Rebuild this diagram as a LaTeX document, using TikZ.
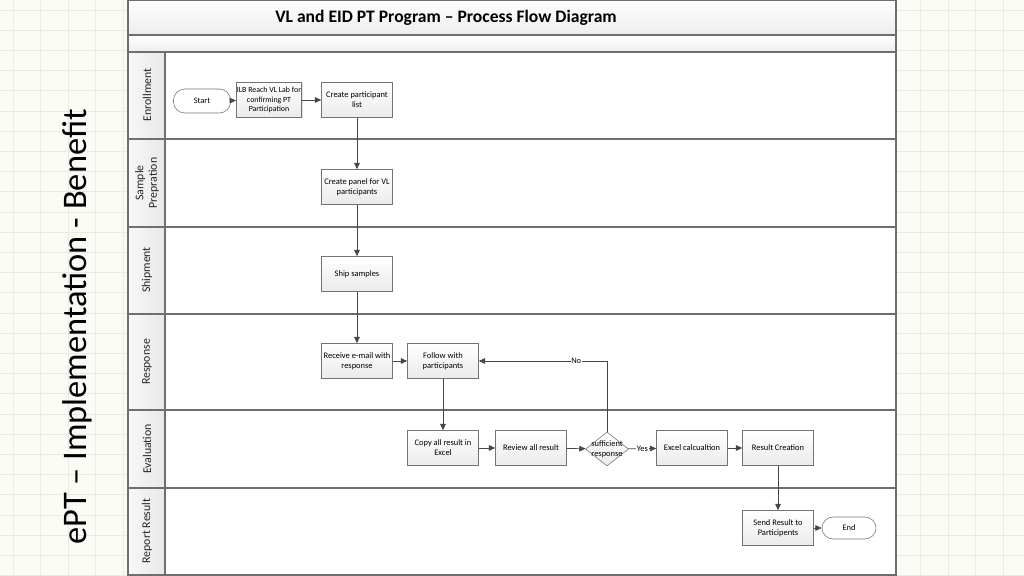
\documentclass[tikz,border=0pt]{standalone}
\usepackage{fontspec}
\setmainfont{Carlito}
\usetikzlibrary{shapes.geometric}
\usetikzlibrary{positioning}
\usetikzlibrary{arrows.meta}
\usetikzlibrary{shadows}
\definecolor{paperbg}{RGB}{251,251,245}
\definecolor{gridcol}{RGB}{234,234,226}
\definecolor{framecol}{RGB}{110,110,110}
\definecolor{linecol}{RGB}{70,70,70}

\begin{document}
\begin{tikzpicture}
		[
			x = 0.025cm, y = -0.025cm,
			gridline/.style = {draw = gridcol, line width = 0.7pt},
			frame/.style = {draw = framecol, line width = 0.9pt},
			band/.style = {frame, top color = white, bottom color = black!7},
			lanehead/.style = {frame, left color = black!3, right color = black!9},
			lanetext/.style = {rotate = 90, align = center, font = \fontsize{8.4}{9.6}\selectfont, text = black!85},
			procbox/.style = {rectangle, draw = black!55, top color = white, bottom color = black!8, minimum width = 1.775cm, minimum height = 0.875cm, inner sep = 1pt, align = center, font = \fontsize{6}{7.2}\selectfont, drop shadow = {opacity = 0.25, shadow xshift = 0.6pt, shadow yshift = -0.6pt}},
			pill/.style = {rectangle, rounded corners = 0.28cm, draw = black!55, fill = white, minimum height = 0.6cm, font = \fontsize{6}{7.2}\selectfont},
			decide/.style = {diamond, draw = black!55, top color = white, bottom color = black!8, minimum width = 1.075cm, minimum height = 0.85cm, inner sep = 0pt},
			flow/.style = {draw = linecol, line width = 0.5pt, -{Triangle[length = 4.5pt, width = 4pt]}},
			answer/.style = {fill = white, inner sep = 0.5pt, font = \fontsize{6}{7.2}\selectfont},
		]
			%
			\useasboundingbox (0,0) rectangle (1024,576);
			\fill[paperbg] (0,0) rectangle (1024,576);
			\foreach \gx in {0,...,37} {
				\draw[gridline] ({13+27.5*\gx},0) -- ({13+27.5*\gx},576);
			}
			\foreach \gy in {0,...,28} {
				\draw[gridline] (0,{10+20.2*\gy}) -- (1024,{10+20.2*\gy});
			}
			%
			\node (sidetitle) [rotate = 90, font = \fontsize{24.5}{28}\selectfont] at (77,327) {ePT – Implementation - Benefit};
			%
			% pool and lanes
			\fill[white] (128,0) rectangle (896,575);
			\draw[band] (128,0) rectangle (896,35);
			\draw[band] (128,35) rectangle (896,52);
			\node (title) [font = \fontsize{12.5}{15}\selectfont\bfseries] at (446,18) {VL and EID PT Program – Process Flow Diagram};
			%
			\draw[frame] (128,52) rectangle (896,139);
			\draw[frame] (128,139) rectangle (896,227);
			\draw[frame] (128,227) rectangle (896,314);
			\draw[frame] (128,314) rectangle (896,410);
			\draw[frame] (128,410) rectangle (896,488);
			\draw[frame] (128,488) rectangle (896,575);
			\draw[lanehead] (128,52) rectangle (165,139);
			\draw[lanehead] (128,139) rectangle (165,227);
			\draw[lanehead] (128,227) rectangle (165,314);
			\draw[lanehead] (128,314) rectangle (165,410);
			\draw[lanehead] (128,410) rectangle (165,488);
			\draw[lanehead] (128,488) rectangle (165,575);
			\node (enrolllane) [lanetext] at (147,95) {Enrollment};
			\node (preplane) [lanetext] at (147,183) {Sample\\Prepration};
			\node (shiplane) [lanetext] at (147,270) {Shipment};
			\node (responselane) [lanetext] at (147,362) {Response};
			\node (evallane) [lanetext] at (147,449) {Evaluation};
			\node (reportlane) [lanetext] at (147,531) {Report Result};
			%
			% steps
			\node (start) [pill, minimum width = 1.425cm] at (202,101) {Start};
			\node (reach) [procbox, minimum width = 1.55cm, inner sep = 0.5pt, font = \fontsize{5.6}{6.8}\selectfont] at (269,100) {ILB Reach VL Lab for\\confirming PT\\Participation};
			\node (partlist) [procbox] at (357,100) {Create participant\\list};
			\node (panel) [procbox] at (357,187) {Create panel for VL\\participants};
			\node (ship) [procbox] at (357,274) {Ship samples};
			\node (receive) [procbox] at (357,361) {Receive e-mail with\\response};
			\node (follow) [procbox] at (443,361) {Follow with\\participants};
			\node (copy) [procbox] at (443,448) {Copy all result in\\Excel};
			\node (review) [procbox] at (531,448) {Review all result};
			\node (enough) [decide, label = {[align = center, font = \fontsize{6}{7.2}\selectfont]center:sufficient\\response}] at (607,449) {};
			\node (calc) [procbox] at (692,448) {Excel calcualtion};
			\node (creation) [procbox] at (778,448) {Result Creation};
			\node (send) [procbox] at (778,528) {Send Result to\\Participents};
			\node (end) [pill, minimum width = 1.35cm, minimum height = 0.55cm] at (849,528) {End};
			%
			% connectors
			\draw[flow] (start) -- (reach);
			\draw[flow] (reach) -- (partlist);
			\draw[flow] (partlist) -- (panel);
			\draw[flow] (panel) -- (ship);
			\draw[flow] (ship) -- (receive);
			\draw[flow] (receive) -- (follow);
			\draw[flow] (follow) -- (copy);
			\draw[flow] (copy) -- (review);
			\draw[flow] (review) -- (enough);
			\draw[flow] (enough) -- node (yes) [answer] {Yes} (calc);
			\draw[flow] (enough.north) |- node (no) [answer, pos = 0.62] {No} (follow.east);
			\draw[flow] (calc) -- (creation);
			\draw[flow] (creation) -- (send);
			\draw[flow] (send) -- (end);
			%
		\end{tikzpicture}
\end{document}
